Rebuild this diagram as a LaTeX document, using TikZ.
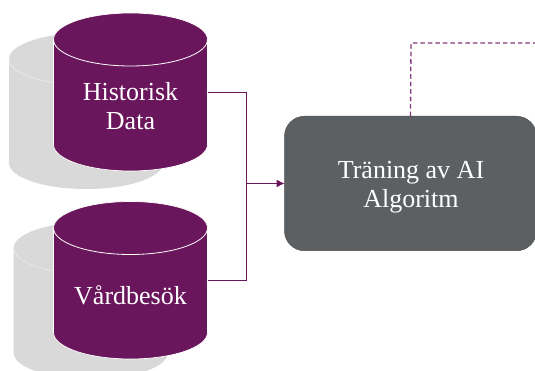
\documentclass[tikz,border=0pt]{standalone}
\usepackage{fontspec}
\setmainfont{Liberation Serif}
\usetikzlibrary{arrows.meta}
\definecolor{plum}{HTML}{6A165C}
\definecolor{plumdash}{HTML}{84387A}
\definecolor{shadowgrey}{HTML}{D9D9D9}
\definecolor{slate}{HTML}{5D6062}
\tikzset{
 x=1pt,y=-1pt,
 anchorbox/.style={minimum width=154pt,minimum height=158pt,inner sep=0pt,outer sep=0pt},
 labeltxt/.style={text=white,font=\fontsize{26}{29}\selectfont,align=center,inner sep=0pt},
 link/.style={draw=plum,line width=1pt},
 dashlink/.style={draw=plumdash,line width=1.3pt,dash pattern=on 4.5pt off 3pt},
 shadowdrum/.style={fill=shadowgrey},
 shadowrim/.style={draw=white!94!black,line width=.5pt},
 drumbody/.style={fill=plum,draw=white,line width=.7pt},
 drumrim/.style={draw=white,line width=.8pt},
}
\begin{document}
\begin{tikzpicture}
\useasboundingbox (0,0) rectangle (535,371);
% shadows
\path[shadowdrum] (9,59) arc[start angle=180,end angle=360,x radius=77,y radius=26] -- (163,163) arc[start angle=0,end angle=180,x radius=77,y radius=26] -- cycle;
\path[shadowrim] (9,59) arc[start angle=180,end angle=0,x radius=77,y radius=26];
\path[shadowdrum] (13.7,248) arc[start angle=180,end angle=360,x radius=77,y radius=26] -- (167.7,353) arc[start angle=0,end angle=180,x radius=77,y radius=26] -- cycle;
\path[shadowrim] (13.7,248) arc[start angle=180,end angle=0,x radius=77,y radius=26];
% cylinders
\node[anchorbox] (hist) at (130.5,92.5) {};
\node[anchorbox] (vard) at (130.5,280) {};
\path[drumbody] (53.5,39.5) arc[start angle=180,end angle=360,x radius=77,y radius=26.5] -- (207.5,144.5) arc[start angle=0,end angle=180,x radius=77,y radius=26.5] -- cycle;
\path[drumrim] (53.5,39.5) arc[start angle=180,end angle=0,x radius=77,y radius=26.5];
\path[drumbody] (53.5,228) arc[start angle=180,end angle=360,x radius=77,y radius=26.5] -- (207.5,332.5) arc[start angle=0,end angle=180,x radius=77,y radius=26.5] -- cycle;
\path[drumrim] (53.5,228) arc[start angle=180,end angle=0,x radius=77,y radius=26.5];
\node[labeltxt] (histtxt) at (130.5,106) {Historisk\\Data};
\node[labeltxt] (vardtxt) at (130.5,295) {Vårdbesök};
% box
\node[draw=slate!80!black,line width=.5pt,fill=slate,rounded corners=20pt,minimum width=252pt,minimum height=134.5pt,inner sep=0pt,outer sep=0pt] (algo) at (410.5,183.5) {};
\node[labeltxt] (algotxt) at (411,187) {Träning av AI\\Algoritm};
% connectors
\coordinate (join) at (246,183.5);
\coordinate (dashend) at (535,43);
\coordinate (dashbend) at (411,43);
\draw[link] (hist.east) -| (join);
\draw[link] (vard.east) -| (join);
\draw[link,-{Latex[length=8pt,width=8pt]}] (join) -- (algo.west);
\draw[dashlink] (algo.north) -- (dashbend) -- (dashend);
\end{tikzpicture}
\end{document}
